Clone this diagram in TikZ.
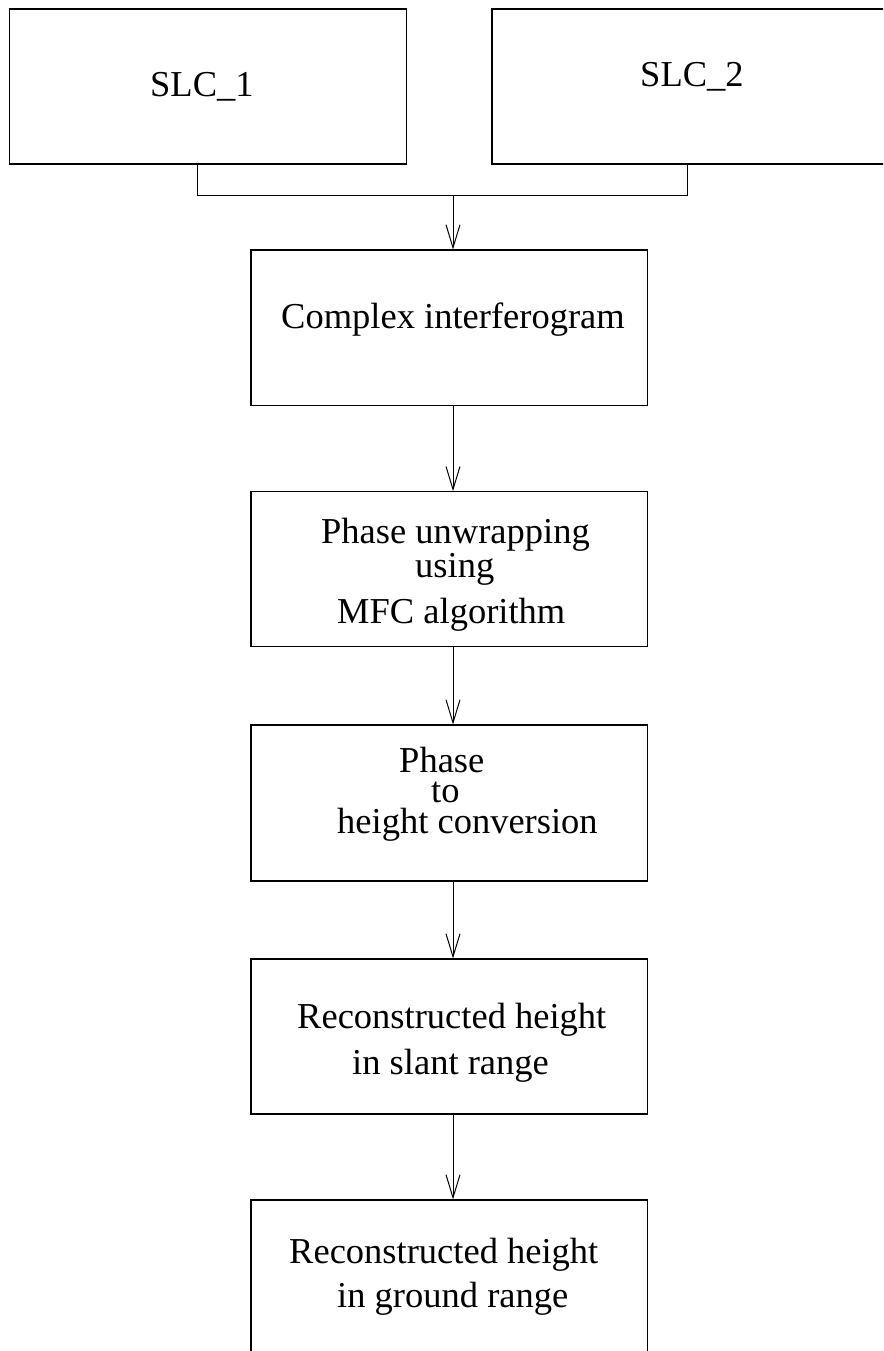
\documentclass[tikz,border=0pt]{standalone}
\usepackage{fontspec}
\setmainfont{Liberation Serif}
\usetikzlibrary{arrows.meta}
\begin{document}
\begin{tikzpicture}[x=1pt,y=-1pt,
  box/.style={draw=black,line width=1.1pt,rectangle,inner sep=0pt,minimum width=396.5pt},
  lbl/.style={anchor=base west,inner sep=0pt,font=\fontsize{36.5}{43}\selectfont},
  conn/.style={draw=black,line width=1pt},
  arr/.style={conn,-{Straight Barb[length=23pt,width=14pt,line width=1pt]}}]
\useasboundingbox (0,0) rectangle (883,1351);
\clip (0,0) rectangle (883,1351);
% boxes
\node[box,minimum width=397pt,minimum height=155pt] (s1) at (208.1,86.5) {};
\node[box,minimum width=398pt,minimum height=155pt] (s2) at (691,86.5) {};
\node[box,minimum height=155.7pt] (ci) at (449.25,327.85) {};
\node[box,minimum height=155pt] (pu) at (449.25,569.2) {};
\node[box,minimum height=156pt] (ph) at (449.25,803) {};
\node[box,minimum height=155pt] (sr) at (449.25,1036.5) {};
\node[box,minimum height=180pt] (gr) at (449.25,1290) {};
% texts
\node[lbl] (t1) at (150,97) {SLC\_1};
\node[lbl] (t2) at (640,87) {SLC\_2};
\node[lbl] (t3) at (281,328) {Complex interferogram};
\node[lbl] (t4) at (321,543) {Phase unwrapping};
\node[lbl] (t5) at (415,577) {using};
\node[lbl] (t6) at (337,623) {MFC algorithm};
\node[lbl] (t7) at (399,772) {Phase};
\node[lbl] (t8) at (431,802) {to};
\node[lbl] (t9) at (337,833) {height conversion};
\node[lbl] (t10) at (297,1028) {Reconstructed height};
\node[lbl] (t11) at (352,1074) {in slant range};
\node[lbl] (t12) at (289,1263) {Reconstructed height};
\node[lbl] (t13) at (337,1307) {in ground range};
% connectors
\coordinate (j1) at (197,196);
\coordinate (j2) at (687,196);
\coordinate (jm) at (453,196);
\draw[conn] (s1.south -| j1) -- (j1) -- (j2) -- (s2.south -| j2);
\draw[arr] (jm) -- (ci.north -| jm);
\draw[arr] (ci.south -| jm) -- (pu.north -| jm);
\draw[arr] (pu.south -| jm) -- (ph.north -| jm);
\draw[arr] (ph.south -| jm) -- (sr.north -| jm);
\draw[arr] (sr.south -| jm) -- (gr.north -| jm);
\end{tikzpicture}
\end{document}
